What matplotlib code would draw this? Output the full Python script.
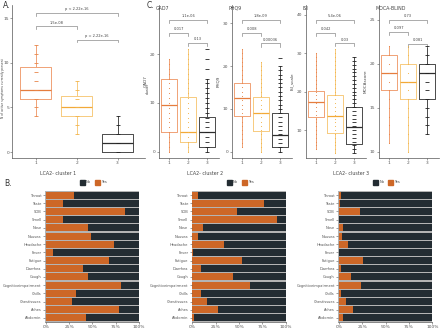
import matplotlib
matplotlib.use("Agg")
import matplotlib.pyplot as plt
from matplotlib.patches import Rectangle

W, H = 440, 329

# ---- panel A data: number of active symptoms by cluster
a_stats = [
    dict(med=7, q1=6, q3=9.5, whislo=4, whishi=12),
    dict(med=5, q1=4, q3=6.3, whislo=2, whishi=8),
    dict(med=1, q1=0, q3=2, whislo=0, whishi=4),
]
a_pts = [
    [4, 5, 6, 7, 8, 9, 10, 11, 12],
    [2, 3, 4, 5, 6, 7, 8],
    [0, 1, 2, 3, 4],
]
a_pvals = [(1, 3, 15.6, "p < 2.22e-16"), (1, 2, 14.1, "1.5e-08"), (2, 3, 12.6, "p = 2.22e-16")]

# ---- panel C data: four scores by cluster
c_titles = ["GAD7", "PHQ9", "ISI", "MOCA-BLIND"]
c_ylabels = ["GAD7", "PHQ9", "ISI_scale", "MOCAscore"]
c_stats = [
    [dict(med=9.5, q1=4.0, q3=14.9, whislo=0, whishi=19),
     dict(med=4.0, q1=1.9, q3=11.3, whislo=0, whishi=21),
     dict(med=4.0, q1=1.0, q3=7.1, whislo=0, whishi=15)],
    [dict(med=12.5, q1=8.4, q3=16.0, whislo=1, whishi=24),
     dict(med=9.0, q1=4.9, q3=12.8, whislo=0, whishi=21),
     dict(med=3.9, q1=1.0, q3=9.0, whislo=0, whishi=20)],
    [dict(med=17.2, q1=13.5, q3=20.3, whislo=5, whishi=30),
     dict(med=13.7, q1=9.1, q3=19.1, whislo=4, whishi=31),
     dict(med=10.7, q1=6.3, q3=16.1, whislo=4, whishi=29)],
    [dict(med=19, q1=17, q3=21, whislo=11, whishi=22),
     dict(med=18, q1=16, q3=20, whislo=10, whishi=22),
     dict(med=19, q1=16, q3=20, whislo=12, whishi=22)],
]
c_pts = [
    [[0, 1, 2, 3, 4, 5, 6, 7, 8, 9, 10, 11, 12, 13, 14, 15, 16, 17, 18, 19],
     [0, 1, 2, 3, 4, 5, 6, 7, 8, 9, 10, 11, 12, 13, 14, 15, 16, 17, 18, 19, 20, 21],
     [0, 1, 2, 3, 4, 5, 6, 7, 8, 9, 10, 11, 12, 13, 14, 15, 17, 19, 21]],
    [[1, 2, 3, 4, 5, 6, 7, 8, 9, 10, 11, 12, 13, 14, 15, 16, 17, 18, 19, 20, 21, 22, 23, 24],
     [0, 1, 2, 3, 4, 5, 6, 7, 8, 9, 10, 11, 12, 13, 14, 15, 16, 17, 18, 19, 20, 21],
     [0, 1, 2, 3, 4, 5, 6, 7, 8, 9, 10, 11, 12, 13, 14, 15, 16, 17, 18, 19, 20, 22]],
    [[5, 6, 7, 8, 9, 10, 11, 12, 13, 14, 15, 16, 17, 18, 19, 20, 21, 22, 23, 24, 25, 26, 27, 28, 29, 30],
     [4, 5, 6, 7, 8, 9, 10, 11, 12, 13, 14, 15, 16, 17, 18, 19, 20, 21, 22, 23, 24, 25, 26, 27, 28, 29, 30, 31],
     [4, 5, 6, 7, 8, 9, 10, 11, 12, 13, 14, 15, 16, 17, 18, 19, 20, 21, 22, 23, 24, 25, 26, 27, 28, 29]],
    [[11, 12, 13, 14, 15, 16, 17, 18, 19, 20, 21, 22],
     [10, 11, 12, 13, 14, 15, 16, 17, 18, 19, 20, 21, 22],
     [12, 13, 14, 15, 16, 17, 18, 19, 20, 21, 22]],
]
c_pvals = [
    [(1, 3, 27.0, "1.1e-06"), (1, 2, 24.4, "0.017"), (2, 3, 22.3, "0.13")],
    [(1, 3, 30.8, "1.8e-09"), (1, 2, 27.8, "0.008"), (2, 3, 25.3, "0.00036")],
    [(1, 3, 38.7, "5.4e-06"), (1, 2, 35.4, "0.042"), (2, 3, 32.6, "0.03")],
    [(1, 3, 25.0, "0.73"), (1, 2, 23.6, "0.097"), (2, 3, 22.3, "0.081")],
]
c_ylims = [(-1.3, 30.1), (-1.5, 34.3), (2.7, 42.6), (9.3, 26.7)]
c_yticks = [[0, 10, 20], [0, 10, 20, 30], [10, 20, 30, 40], [10, 15, 20, 25]]

# ---- panel B data: share of "Yes" per symptom and cluster
symptoms = ["Throat", "Taste", "SOB", "Smell", "Nose", "Nausea", "Headache", "Fever",
            "Fatigue", "Diarrhea", "Cough", "Cognitiveimpairment", "Chills",
            "Chestissues", "Aches", "Abdomin"]
yes_c1 = [0.30, 0.19, 0.85, 0.19, 0.45, 0.49, 0.73, 0.08, 0.68, 0.40, 0.45, 0.81, 0.32, 0.28, 0.79, 0.43]
yes_c2 = [0.06, 0.77, 0.48, 0.91, 0.11, 0.06, 0.34, 0.01, 0.53, 0.09, 0.43, 0.62, 0.09, 0.16, 0.27, 0.02]
yes_c3 = [0.02, 0.01, 0.22, 0.0, 0.04, 0.03, 0.10, 0.0, 0.26, 0.02, 0.13, 0.24, 0.02, 0.07, 0.15, 0.04]
b_titles = ["LCA2- cluster 1", "LCA2- cluster 2", "LCA2- cluster 3"]

edge_cols = ["#f0a276", "#f7cb7e", "#4a4a4a"]
med_cols = ["#e57d3e", "#f2a938", "#2e2e2e"]
pt_cols = ["#e8864a", "#f3b44a", "#222222"]
YES, NO = "#cd6727", "#232c32"
TXT = "#444444"

fig = plt.figure(figsize=(W / 100, H / 100), dpi=100)


def px_axes(x0, y0, x1, y1):
    return fig.add_axes([x0 / W, 1 - y1 / H, (x1 - x0) / W, (y1 - y0) / H])


def style(ax):
    for s in ["top", "right"]:
        ax.spines[s].set_visible(False)
    for s in ["left", "bottom"]:
        ax.spines[s].set_color("#555555")
        ax.spines[s].set_linewidth(0.5)
    ax.tick_params(labelsize=3.2, colors="#555555", length=1.5, width=0.4, pad=1)


def boxes(ax, stats, pts, width, dash):
    for i in range(3):
        ax.bxp([stats[i]], positions=[i + 1], widths=width, showfliers=False, showcaps=False,
               boxprops=dict(color=edge_cols[i], linewidth=0.7),
               whiskerprops=dict(color=edge_cols[i], linewidth=0.7),
               medianprops=dict(color=med_cols[i], linewidth=0.9))
        if dash or i == 2:
            ax.scatter([i + 1] * len(pts[i]), pts[i], marker="_", s=6, linewidths=0.6,
                       color=pt_cols[i], zorder=3)
        else:
            ax.scatter([i + 1] * len(pts[i]), pts[i], marker="o", s=0.6, linewidths=0,
                       color=pt_cols[i], zorder=3)


def brackets(ax, pvals, tip):
    for x1, x2, y, lab in pvals:
        ax.plot([x1, x1, x2, x2], [y - tip, y, y, y - tip], color="#8a8a8a", lw=0.5)
        ax.text((x1 + x2) / 2, y + tip * 0.6, lab, ha="center", va="bottom", fontsize=2.6, color=TXT)


# ---- A
ax = px_axes(12, 5, 145, 158)
boxes(ax, a_stats, a_pts, 0.75, True)
brackets(ax, a_pvals, 0.3)
ax.set_xlim(0.42, 3.67)
ax.set_ylim(-0.67, 16.5)
ax.set_xticks([1, 2, 3], ["1", "2", "3"])
ax.set_yticks([0, 5, 10, 15])
style(ax)
ax.tick_params(axis="y", pad=0.6)
fig.text(3 / W, 1 - 88 / H, "N of active symptoms currently present", fontsize=2.2, color=TXT,
         rotation=90, ha="center", va="center")
fig.text(148 / W, 1 - 88 / H, "cluster", fontsize=2.4, color=TXT, rotation=90, ha="center", va="center")
fig.text(3 / W, 1 - 5 / H, "A.", fontsize=5.5, color="#333333", ha="left", va="center")

# ---- C
c_lefts = [158.5, 231.5, 305.5, 378.5]
for k in range(4):
    ax = px_axes(c_lefts[k], 5, c_lefts[k] + 60, 158)
    boxes(ax, c_stats[k], c_pts[k], 0.8, False)
    span = c_ylims[k][1] - c_ylims[k][0]
    brackets(ax, c_pvals[k], span * 0.02)
    ax.set_xlim(0.45, 3.6)
    ax.set_ylim(*c_ylims[k])
    ax.set_xticks([1, 2, 3], ["1", "2", "3"])
    ax.set_yticks(c_yticks[k])
    style(ax)
    ax.set_ylabel(c_ylabels[k], fontsize=3, color=TXT, labelpad=1.5)
    fig.text((c_lefts[k] - 3) / W, 1 - 8 / H, c_titles[k], fontsize=3.4, color=TXT, ha="left", va="center")
fig.text(147 / W, 1 - 5 / H, "C.", fontsize=5.5, color="#333333", ha="left", va="center")

# ---- B
b_lefts = [45, 191.7, 338.3]
for k, yes in enumerate([yes_c1, yes_c2, yes_c3]):
    ax = px_axes(b_lefts[k], 191, b_lefts[k] + 94, 322)
    ax.set_facecolor("#b4b4b4")
    ypos = list(range(len(symptoms)))[::-1]
    no = [1 - v for v in yes]
    ax.barh(ypos, yes, height=0.86, color=YES)
    ax.barh(ypos, no, left=yes, height=0.86, color=NO)
    ax.set_xlim(-0.008, 1.0)
    ax.set_ylim(-0.5, len(symptoms) - 0.5)
    ax.set_yticks(ypos, symptoms)
    ax.set_xticks([0, 0.25, 0.5, 0.75, 1.0], ["0%", "25%", "50%", "75%", "100%"])
    style(ax)
    ax.tick_params(axis="y", labelsize=2.6)
    ax.spines["left"].set_visible(False)
    x0 = b_lefts[k]
    fig.text((x0 - 5) / W, 1 - 173 / H, b_titles[k], fontsize=3.4, color=TXT, ha="left", va="center")
    fig.patches.append(Rectangle(((x0 + 35) / W, 1 - 185 / H), 5 / W, 5 / H, color=NO,
                                 transform=fig.transFigure, figure=fig))
    fig.text((x0 + 41) / W, 1 - 182.5 / H, "No", fontsize=2.6, color=TXT, ha="left", va="center")
    fig.patches.append(Rectangle(((x0 + 50) / W, 1 - 185 / H), 5 / W, 5 / H, color=YES,
                                 transform=fig.transFigure, figure=fig))
    fig.text((x0 + 56) / W, 1 - 182.5 / H, "Yes", fontsize=2.6, color=TXT, ha="left", va="center")
fig.text(4 / W, 1 - 183 / H, "B.", fontsize=5.5, color="#333333", ha="left", va="center")

fig.savefig("out.png", dpi=100)
